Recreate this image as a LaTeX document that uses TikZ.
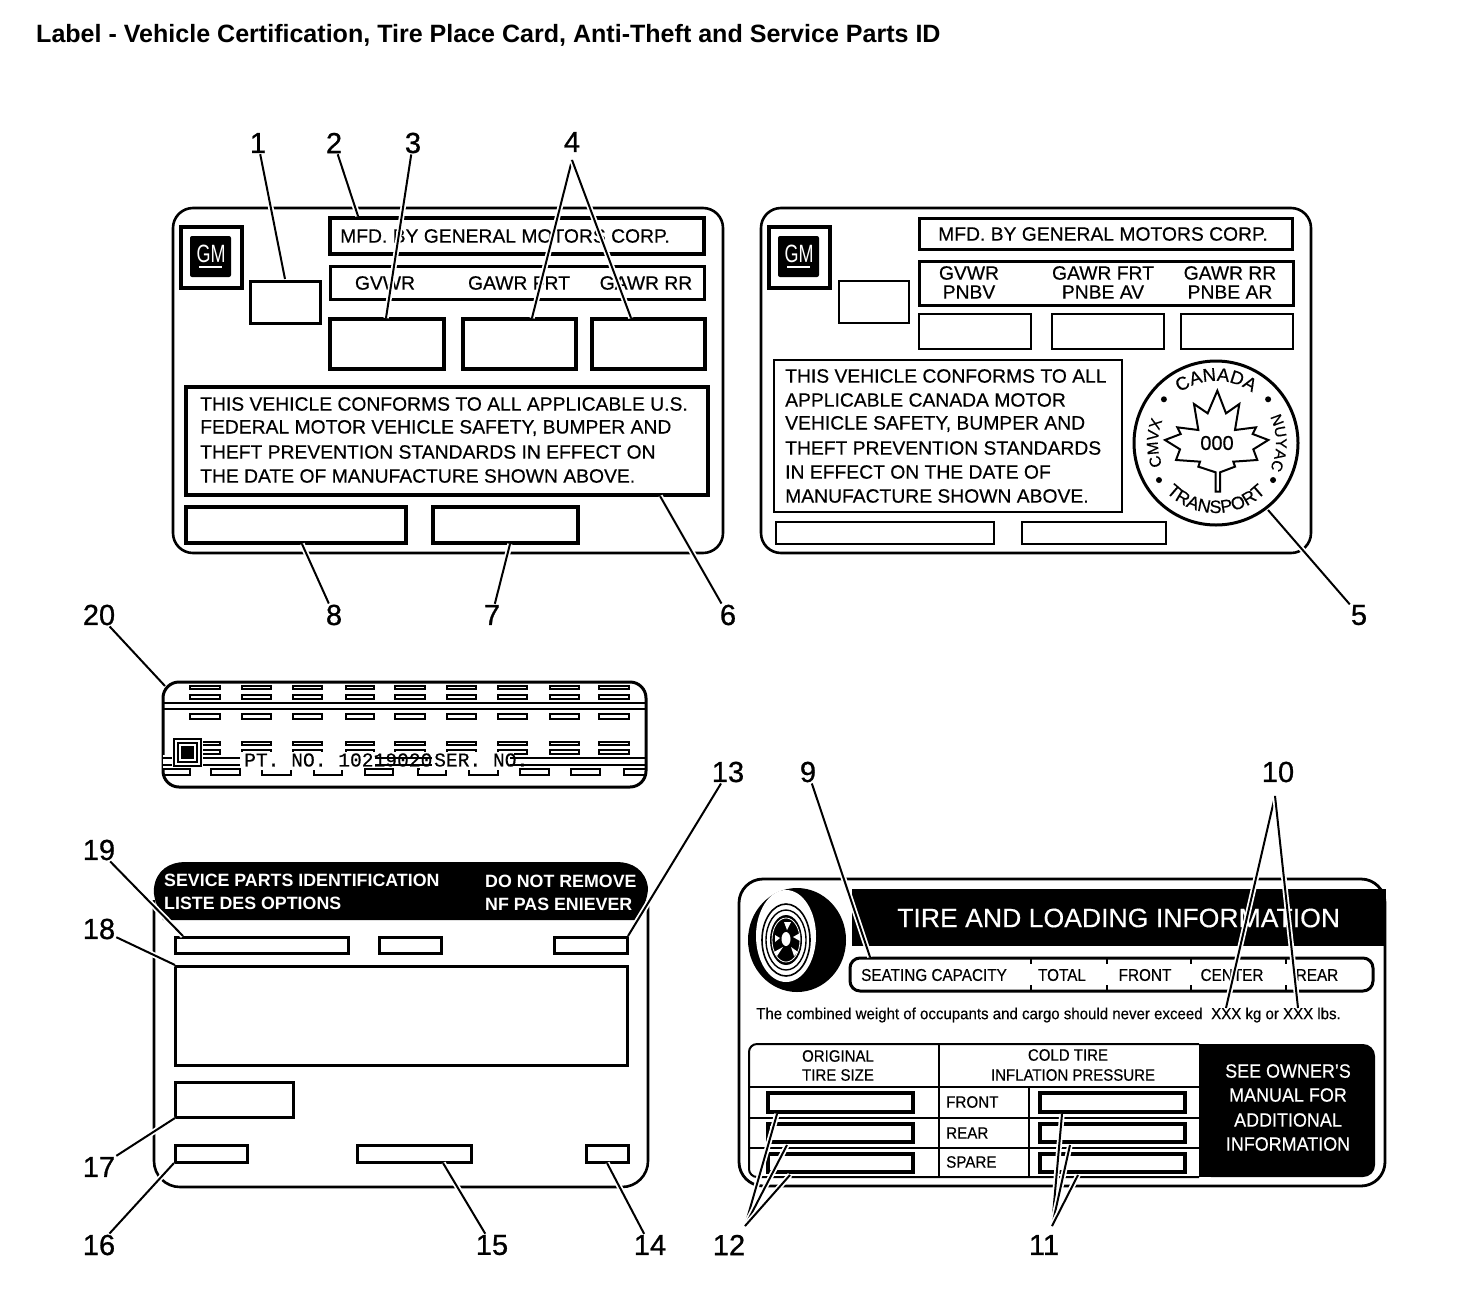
\documentclass[tikz,border=0pt]{standalone}
\usepackage{fontspec}
\setmainfont{Liberation Sans}
\setmonofont{Liberation Mono}
\usetikzlibrary{calc,decorations.text}
\newcommand{\fsz}[2][1]{\fontsize{#2}{#2}\selectfont\addfontfeatures{FakeBold=.4,FakeStretch=#1}}
\tikzset{
  card/.style={draw,line width=2.6pt,rounded corners=20pt},
  boxa/.style={draw,line width=#1},
  boxa/.default=3pt,
  num/.style={font=\fontsize{29}{29}\selectfont\addfontfeatures{FakeBold=.9},inner sep=1pt},
  lbl/.style={font=\fsz{19.3},inner sep=0pt},
  lblw/.style={lbl,text=white},
  leader/.style={line width=2pt,preaction={draw=white,line width=5.5pt}}
}

\begin{document}
\begin{tikzpicture}[x=1pt,y=-1pt,line join=miter]
\useasboundingbox (0,0) rectangle (1472,1312);

\node[font=\bfseries\fontsize{25.05}{26}\selectfont,inner sep=0pt,anchor=west] (title) at (36,35.5)
  {Label - Vehicle Certification, Tire Place Card, Anti-Theft and Service Parts ID};

% us card
\draw[card] (173,208) rectangle (723,553);
\draw[boxa=4pt] (181,227) rectangle (242,288);
\fill[rounded corners=2pt] (190,236) rectangle (231,277);
\node[lblw,font=\fontsize{25}{25}\selectfont\addfontfeature{FakeStretch=.72}] (gma) at (211,254) {GM};
\draw[white,line width=1.5pt] (199,267) -- (222,267);
\draw[boxa] (250,281) rectangle (320,323);
\draw[boxa=3.4pt] (330,218) rectangle (704,254);
\draw[boxa] (330,266) rectangle (704,299);
\foreach \x/\xx in {330/444,463/576,592/705}
  \draw[boxa=3.4pt] (\x,319) rectangle (\xx,369);
\draw[boxa=3.4pt] (186,387) rectangle (708,495);
\draw[boxa=3.4pt] (186,507) rectangle (406,543);
\draw[boxa=3.4pt] (433,507) rectangle (578,543);
\node[lbl,anchor=west] (a0) at (340,236) {MFD. BY GENERAL MOTORS CORP.};
\node[lbl] (a1) at (385,283) {GVWR};
\node[lbl] (a2) at (519,283) {GAWR FRT};
\node[lbl] (a3) at (646,283) {GAWR RR};
\foreach \i/\y/\t in {4/404/THIS VEHICLE CONFORMS TO ALL APPLICABLE U.S.,
  5/428/{FEDERAL MOTOR VEHICLE SAFETY, BUMPER AND},
  6/452/THEFT PREVENTION STANDARDS IN EFFECT ON,
  7/476/THE DATE OF MANUFACTURE SHOWN ABOVE.}
  \node[lbl,anchor=west] (a\i) at (200,\y) {\t};

% canada card
\draw[card] (761,208) rectangle (1311,553);
\draw[boxa=4pt] (769,227) rectangle (830,288);
\fill[rounded corners=2pt] (778,236) rectangle (819,277);
\node[lblw,font=\fontsize{25}{25}\selectfont\addfontfeature{FakeStretch=.72}] (gmb) at (799,254) {GM};
\draw[white,line width=1.5pt] (787,267) -- (810,267);
\draw[boxa=2.4pt] (839,281) rectangle (909,323);
\draw[boxa] (919,218) rectangle (1292,249);
\draw[boxa] (919,261) rectangle (1293,305);
\foreach \x/\xx in {919/1031,1052/1164,1181/1293}
  \draw[boxa=2.4pt] (\x,314) rectangle (\xx,349);
\draw[boxa=2.6pt] (774,360) rectangle (1122,512);
\draw[boxa=2.4pt] (776,522) rectangle (994,544);
\draw[boxa=2.4pt] (1022,522) rectangle (1166,544);
\node[lbl] (b0) at (1103,234) {MFD. BY GENERAL MOTORS CORP.};
\foreach \i/\x/\y/\t in {1/969/273/GVWR,2/969/292/PNBV,3/1103/273/GAWR FRT,
  4/1103/292/PNBE AV,5/1230/273/GAWR RR,6/1230/292/PNBE AR}
  \node[lbl] (b\i) at (\x,\y) {\t};
\foreach \i/\y/\t in {7/376/THIS VEHICLE CONFORMS TO ALL,8/400/APPLICABLE CANADA MOTOR,
  9/424/{VEHICLE SAFETY, BUMPER AND},10/448/THEFT PREVENTION STANDARDS,
  11/472/IN EFFECT ON THE DATE OF,12/496/MANUFACTURE SHOWN ABOVE.}
  \node[lbl,anchor=west] (b\i) at (785,\y) {\t};

% seal
\begin{scope}[shift={(1216,443)},x=1pt,y=1pt]
\draw[line width=3pt] (0,0) circle (82);
\foreach \a in {40,140,213,327} \fill (\a:68) circle (3);
\path[decorate,decoration={text along path,text align=center,text={|\fsz{18.5}|CANADA}}]
  (150:62) arc[start angle=150,end angle=30,radius=62];
\path[decorate,decoration={text along path,text align=center,text={|\fsz{16}|CMVX}}]
  (215:58) arc[start angle=215,end angle=145,radius=58];
\path[decorate,decoration={text along path,text align=center,text={|\fsz{15.5}|NUYAC}}]
  (40:60) arc[start angle=40,end angle=-40,radius=60];
\path[decorate,decoration={text along path,text align=center,text={|\fsz{18}|TRANSPORT}}]
  (215:70) arc[start angle=215,end angle=325,radius=70];
\end{scope}
\begin{scope}[shift={(1120,350)},x=.3333pt,y=-.3333pt]
\draw[line width=2pt] (287,375) -- (287,425) -- (300,425) -- (300,367) -- (345,350) -- (340,335) -- (412,330)
  -- (400,298) -- (445,270) -- (398,252) -- (408,232) -- (345,240) -- (358,162) -- (318,190) -- (292,122)
  -- (263,190) -- (222,162) -- (235,240) -- (172,232) -- (182,252) -- (135,270) -- (180,298) -- (168,330)
  -- (240,335) -- (235,350) -- (287,367) -- cycle;
\end{scope}
\node[lbl,font=\fsz{20}] (seal) at (1217,443) {000};

% strip
\draw[line width=3pt,rounded corners=16pt] (163,682) rectangle (646,787);
\draw[line width=2.2pt] (163,703) -- (646,703) (163,709) -- (646,709);
\foreach \x/\xx in {190/220,242/271,293/322,346/374,395/425,447/476,498/527,550/579,599/629} {
  \draw[boxa=2pt] (\x,686) rectangle (\xx,689);
  \draw[boxa=2pt] (\x,695) rectangle (\xx,699);
  \draw[boxa=2.4pt] (\x,714) rectangle (\xx,719);
  \draw[boxa=2pt] (\x,742) rectangle (\xx,745);
  \draw[boxa=2pt] (\x,750) rectangle (\xx,754);
}
\foreach \x/\xx in {163/190,211/240,262/291,314/342,365/393,418/446,469/498,520/549,571/600,624/646}
  \draw[boxa=2pt] (\x,769) rectangle (\xx,775);
\fill[white] (240,752) rectangle (514,757);
\fill[white] (250,757) rectangle (355,770);
\fill[white] (420,757) rectangle (514,770);
\fill[white] (163,755) rectangle (172,768);
\draw[line width=2.2pt] (163,758) -- (240,758) (163,765) -- (240,765)
  (510,758) -- (646,758) (510,765) -- (646,765) (375,758) -- (432,758) (375,765) -- (432,765);
\fill[white] (172,737) rectangle (203,768);
\draw[boxa=2.6pt] (174,739) rectangle (201,766);
\draw[boxa=1.4pt] (178,743) rectangle (197,762);
\fill (181,746) rectangle (194,759);
\node[inner sep=0pt,anchor=west,font=\ttfamily\fsz{19.6}] (ptno) at (244,760) {PT. NO. 10219020};
\node[inner sep=0pt,anchor=west,font=\ttfamily\fsz{19.6}] (serno) at (434,760) {SER. NO.};

% parts card
\draw[line width=2.6pt,rounded corners=26pt] (154,900) -- (154,1187) -- (648,1187) -- (648,900);
\fill (163,920) .. controls (156,905) and (153,895) .. (154,888) .. controls (156,870) and (170,862) .. (185,862)
  -- (617,862) .. controls (632,862) and (646,870) .. (648,888) .. controls (648,895) and (645,905) .. (638,920) -- cycle;
\foreach \i/\x/\y/\t in {1/164/880/SEVICE PARTS IDENTIFICATION,2/164/903/LISTE DES OPTIONS,
  3/485/881/DO NOT REMOVE,4/485/904/NF PAS ENIEVER}
  \node[lblw,anchor=west,font=\bfseries\fontsize{17.8}{18}\selectfont] (c\i) at (\x,\y) {\t};
\foreach \x/\xx in {175/348,379/441,554/627}
  \draw[boxa] (\x,937) rectangle (\xx,953);
\draw[boxa] (175,966) rectangle (627,1065);
\draw[boxa] (175,1082) rectangle (293,1117);
\foreach \x/\xx in {175/247,357/471,586/628}
  \draw[boxa] (\x,1145) rectangle (\xx,1162);

% tire card
\draw[line width=2.8pt,rounded corners=24pt] (739,879) rectangle (1385,1186);
\fill (852,889) rectangle (1386,946);
\fill (797,940) ellipse[x radius=49,y radius=52];
\fill[white] (786,936) ellipse[x radius=30,y radius=46];
\draw[line width=1.6pt] (786,940) ellipse[x radius=24,y radius=36];
\draw[line width=1.4pt] (786,940) ellipse[x radius=20,y radius=30];
\fill (786,940) ellipse[x radius=16,y radius=25];
\draw[white,line width=.8pt] (786,940) ellipse[x radius=14,y radius=22];
\fill[white] (786,939) ellipse[x radius=4.5,y radius=7];
\fill[white] (784,922) -- (791,922) -- (787,930) -- cycle;
\fill[white] (800,933) -- (800,941) -- (793,937) -- cycle;
\fill[white] (791,947) -- (798,952) -- (794,956) -- cycle;
\fill[white] (783,947) -- (777,956) -- (774,952) -- cycle;
\fill[white] (775,935) -- (780,938) -- (775,942) -- cycle;
\node[lblw,anchor=west,font=\fsz{26.6}] (d0) at (897,918) {TIRE AND LOADING INFORMATION};
\draw[line width=3pt,rounded corners=10pt] (850,958) rectangle (1373,991);
\foreach \x in {1031,1107,1191,1286} {
  \draw[line width=1.6pt] (\x,958) -- (\x,964) (\x,985) -- (\x,991);
}
\foreach \i/\x/\t in {1/934/SEATING CAPACITY,2/1062/TOTAL,3/1145/FRONT,4/1232/CENTER,5/1317/REAR}
  \node[lbl,font={\fsz[.9]{17}}] (d\i) at (\x,975) {\t};
\node[lbl,anchor=west,font={\fsz[.94]{16}}] (d6) at (756,1015) {The combined weight of occupants and cargo should never exceed};
\node[lbl,anchor=west,font={\fsz[.94]{16}}] (d7) at (1211,1015) {XXX kg or XXX lbs.};
% table
\fill[rounded corners=12pt] (1199,1044) rectangle (1375,1177);
\fill (1199,1044) rectangle (1230,1177);
\draw[line width=2pt,rounded corners=8pt] (1199,1177) -- (749,1177) -- (749,1044) -- (1199,1044);
\draw[line width=1.8pt] (749,1087) -- (1199,1087) (749,1118) -- (1199,1118) (749,1148) -- (1199,1148)
  (939,1044) -- (939,1177) (1029,1087) -- (1029,1177);
\foreach \y/\yy in {1093/1112,1124/1142,1154/1172} {
  \draw[boxa=3.4pt] (768,\y) rectangle (913,\yy);
  \draw[boxa=3.4pt] (1040,\y) rectangle (1185,\yy);
}
\foreach \i/\x/\y/\t in {8/838/1056/ORIGINAL,9/838/1075/TIRE SIZE,10/1068/1055/COLD TIRE,11/1073/1075/INFLATION PRESSURE}
  \node[lbl,font={\fsz[.91]{16.5}}] (d\i) at (\x,\y) {\t};
\foreach \i/\y/\t in {12/1102/FRONT,13/1133/REAR,14/1162/SPARE}
  \node[lbl,anchor=west,font={\fsz[.92]{16.5}}] (d\i) at (946,\y) {\t};
\foreach \i/\y/\t in {15/1071/SEE OWNER'S,16/1095/MANUAL FOR,17/1120/ADDITIONAL,18/1144/INFORMATION}
  \node[lblw,font={\fsz[.93]{19.3}}] (d\i) at (1288,\y) {\t};

% numbers and their leaders
\foreach \n/\x/\y in {1/258/143,2/334/143,3/413/143,4/572/142,5/1359/615,6/728/615,7/492/615,8/334/615,
  9/808/772,10/1278/772,11/1044/1245,12/729/1245,13/728/772,14/650/1245,15/492/1245,16/99/1245,17/99/1167,
  18/99/929,19/99/850,20/99/615}
  \node[num] (n\n) at (\x,\y) {\n};
\coordinate (t4) at (572,160);
\coordinate (t10) at (1275,796);
\coordinate (t11) at (1052,1226);
\coordinate (t12) at (745,1226);
\foreach \s/\e/\x/\y in {n1/1/285/279,n2/2/358/216,n3/3/386/318,t4/4a/532/318,t4/4b/631/318,n5/5/1268/510,n6/6/660/496,
  n7/7/510/544,n8/8/302/544,n9/9/870/957,t10/10a/1226/1008,t10/10b/1298/1008,t11/11a/1062/1114,t11/11b/1070/1145,t11/11c/1078/1175,
  t12/12a/777/1114,t12/12b/787/1145,t12/12c/790/1175,n13/13/628/936,n14/14/607/1163,n15/15/443/1163,n16/16/174/1163,n17/17/175/1118,
  n18/18/175/965,n19/19/183/936,n20/20/165/686} {
  \coordinate (e\e) at (\x,\y);
  \draw[leader] (\s) -- (e\e);
}
\end{tikzpicture}
\end{document}
